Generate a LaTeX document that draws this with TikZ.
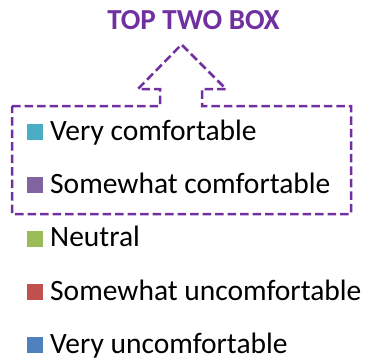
\documentclass[tikz,border=0pt]{standalone}
\usepackage{fontspec}
\setmainfont{Carlito}
\definecolor{tpurple}{HTML}{7030A0}
\definecolor{cvc}{HTML}{4BACC6}
\definecolor{csc}{HTML}{8064A2}
\definecolor{cne}{HTML}{9BBB59}
\definecolor{csu}{HTML}{C0504D}
\definecolor{cvu}{HTML}{4F81BD}
\tikzset{
  legtext/.style={anchor=base west, inner sep=0pt, font=\fontsize{29.5}{32}\selectfont, text=black},
  dashbox/.style={draw=tpurple, line width=2.5pt, dash pattern=on 8.5pt off 4pt, line join=miter},
}
\begin{document}
\begin{tikzpicture}[x=1pt,y=-1pt]
\useasboundingbox (0,0) rectangle (365,360);
\node[anchor=base, inner sep=0pt, text=tpurple, font=\fontsize{29}{32}\selectfont\bfseries] (title) at (193.5,29) {TOP TWO BOX};
\draw[dashbox] (12,106) -- (160,106) -- (160,89) -- (138,89) -- (181.5,44.5) -- (226,89) -- (202,89) -- (202,106) -- (351,106) -- (351,214) -- (12,214) -- cycle;
\foreach \col/\txt/\y/\nm in {cvc/Very comfortable/140/a, csc/Somewhat comfortable/193.3/b, cne/Neutral/246.6/c, csu/Somewhat uncomfortable/300/d, cvu/Very uncomfortable/353.2/e}{
  \fill[\col] (26.5,\y-16) rectangle (42.5,\y);
  \node[legtext] (\nm) at (50,\y) {\txt};
}
\end{tikzpicture}
\end{document}
